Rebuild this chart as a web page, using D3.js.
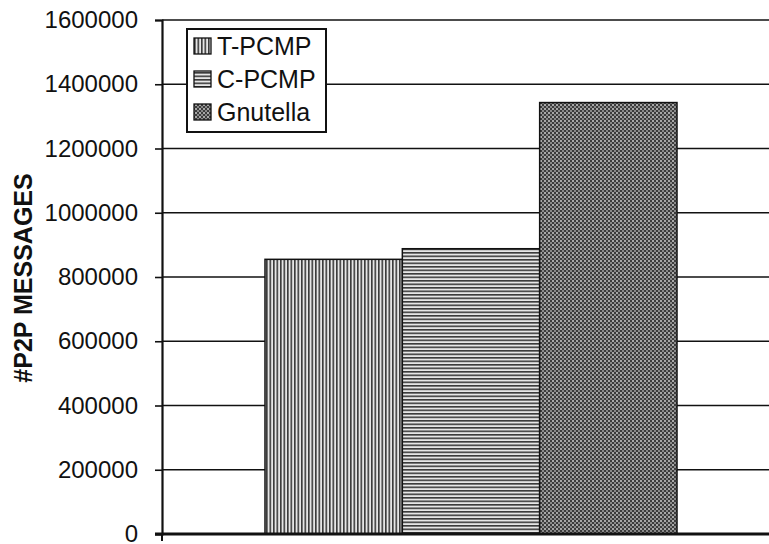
<!DOCTYPE html>
<html><head><meta charset="utf-8">
<script src="https://cdn.jsdelivr.net/npm/d3@7/dist/d3.min.js"></script>
<style>
html,body{margin:0;padding:0;background:#fff;}
svg{display:block;font-family:Arial,"Liberation Sans",sans-serif;}
</style></head>
<body>
<svg id="chart" width="769" height="544"></svg>
<script>
const series = ["T-PCMP", "C-PCMP", "Gnutella"];
const values = [855000, 888000, 1343000];
const yTicks = [0, 200000, 400000, 600000, 800000, 1000000, 1200000, 1400000, 1600000];
const yLabel = "#P2P MESSAGES";

const svg = d3.select("#chart");
const W = 769, H = 544;
const m = {left: 162, right: -11, top: 20, bottom: 10};
const x0 = d3.scaleBand().domain(["all"]).range([m.left, W - m.right]).padding(0.2);
const x1 = d3.scaleBand().domain(series).range([0, x0.bandwidth()]).padding(0);
const y = d3.scaleLinear().domain([0, 1600000]).range([H - m.bottom, m.top]);

// patterns
const defs = svg.append("defs");
const pv = defs.append("pattern").attr("id", "pv").attr("patternUnits", "userSpaceOnUse")
  .attr("width", 3.5).attr("height", 10);
pv.append("rect").attr("width", 3.5).attr("height", 10).attr("fill", "#e6e6e6");
pv.append("rect").attr("width", 1.6).attr("height", 10).attr("fill", "#3a3a3a");
const ph = defs.append("pattern").attr("id", "ph").attr("patternUnits", "userSpaceOnUse")
  .attr("width", 10).attr("height", 3.5);
ph.append("rect").attr("width", 10).attr("height", 3.5).attr("fill", "#e6e6e6");
ph.append("rect").attr("width", 10).attr("height", 1.6).attr("fill", "#3a3a3a");
const pc = defs.append("pattern").attr("id", "pc").attr("patternUnits", "userSpaceOnUse")
  .attr("width", 4).attr("height", 4);
pc.append("rect").attr("width", 4).attr("height", 4).attr("fill", "#3c3c3c");
pc.append("rect").attr("width", 2).attr("height", 2).attr("fill", "#a8a8a8");
pc.append("rect").attr("x", 2).attr("y", 2).attr("width", 2).attr("height", 2).attr("fill", "#8a8a8a");
const fills = {"T-PCMP": "url(#pv)", "C-PCMP": "url(#ph)", "Gnutella": "url(#pc)"};

// gridlines
svg.append("g").selectAll("line").data(yTicks.filter(d => d > 0)).join("line")
  .attr("x1", m.left).attr("x2", W).attr("y1", d => y(d)).attr("y2", d => y(d))
  .attr("stroke", "#111").attr("stroke-width", 1.6);

// bars
svg.append("g").selectAll("rect").data(series).join("rect")
  .attr("x", d => x0("all") + x1(d))
  .attr("width", x1.bandwidth())
  .attr("y", (d, i) => y(values[i]))
  .attr("height", (d, i) => y(0) - y(values[i]))
  .attr("fill", d => fills[d])
  .attr("stroke", "#111").attr("stroke-width", 1.5);

// y axis
const yAxis = svg.append("g").attr("transform", `translate(${m.left},0)`)
  .call(d3.axisLeft(y).tickValues(yTicks).tickFormat(d3.format("d")).tickSize(7).tickPadding(17));
yAxis.select(".domain").attr("stroke", "#111").attr("stroke-width", 2.2);
yAxis.selectAll(".tick line").attr("stroke", "#111").attr("stroke-width", 1.6);
yAxis.selectAll(".tick text").attr("font-size", 24).attr("fill", "#111")
  .attr("font-family", "Arial, 'Liberation Sans', sans-serif");

// x axis line
svg.append("line").attr("x1", m.left - 7).attr("x2", W).attr("y1", y(0)).attr("y2", y(0))
  .attr("stroke", "#111").attr("stroke-width", 3);
svg.append("line").attr("x1", m.left).attr("x2", m.left).attr("y1", y(0)).attr("y2", y(0) + 7)
  .attr("stroke", "#111").attr("stroke-width", 2);

// y label
svg.append("text").attr("transform", `translate(32,${(y(0) + y(1600000)) / 2 + 1}) rotate(-90)`)
  .attr("text-anchor", "middle").attr("font-size", 25).attr("font-weight", "bold")
  .attr("fill", "#111").text(yLabel);

// legend
const lg = svg.append("g").attr("transform", "translate(187,29)");
lg.append("rect").attr("width", 139).attr("height", 103).attr("fill", "#fff")
  .attr("stroke", "#111").attr("stroke-width", 2);
const rows = lg.selectAll("g").data(series).join("g")
  .attr("transform", (d, i) => `translate(0,${17 + i * 33})`);
rows.append("rect").attr("x", 7).attr("y", -8).attr("width", 17).attr("height", 16)
  .attr("fill", d => fills[d]).attr("stroke", "#111").attr("stroke-width", 1.3);
rows.append("text").attr("x", 30).attr("y", 0).attr("dy", "0.36em")
  .attr("font-size", 25).attr("fill", "#111").text(d => d);
</script>
</body></html>
